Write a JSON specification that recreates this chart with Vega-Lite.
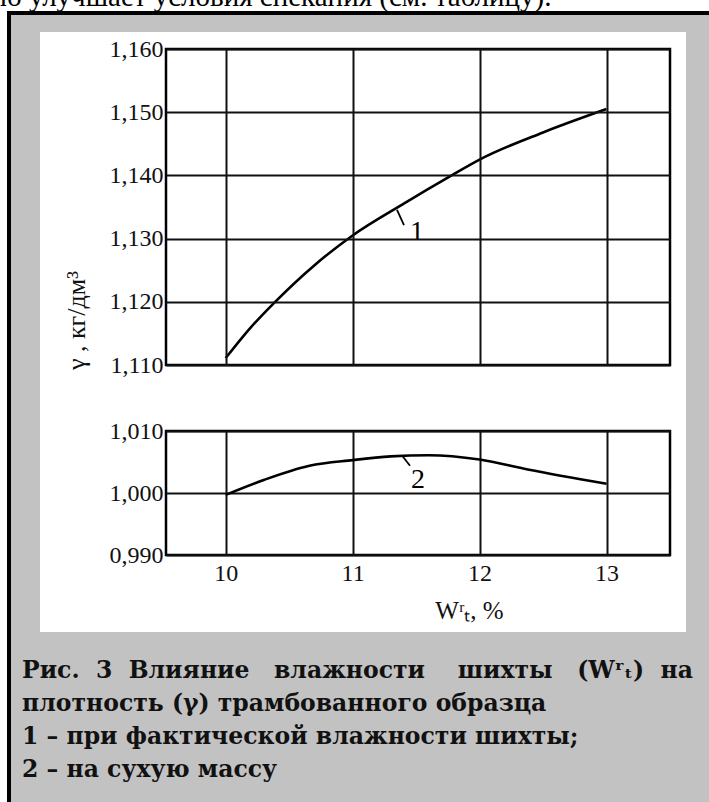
{
  "$schema": "https://vega.github.io/schema/vega-lite/v6.json",
  "autosize": {"type": "none"},
  "padding": {"left": 166, "top": 49, "right": 543, "bottom": 753},
  "background": "white",
  "bounds": "flush",
  "spacing": 66,
  "config": {
    "view": {"stroke": "black", "strokeWidth": 2.5},
    "font": "Liberation Serif",
    "axis": {"labelFont": "Liberation Serif", "labelColor": "#111", "titleFont": "Liberation Serif", "titleColor": "#111", "titleFontWeight": "normal", "gridColor": "#111", "gridOpacity": 1, "gridWidth": 2, "ticks": false, "domain": false, "labelOverlap": false, "labelFlush": false}
  },
  "datasets": {
    "curves": [
      {"W": 10.0, "gamma": 1.1111, "curve": 1},
      {"W": 10.2, "gamma": 1.1160, "curve": 1},
      {"W": 10.39, "gamma": 1.1200, "curve": 1},
      {"W": 10.7, "gamma": 1.1258, "curve": 1},
      {"W": 11.0, "gamma": 1.1305, "curve": 1},
      {"W": 11.4, "gamma": 1.1355, "curve": 1},
      {"W": 11.78, "gamma": 1.1400, "curve": 1},
      {"W": 12.0, "gamma": 1.1425, "curve": 1},
      {"W": 12.5, "gamma": 1.1468, "curve": 1},
      {"W": 13.0, "gamma": 1.1505, "curve": 1},
      {"W": 10.0, "gamma": 0.9997, "curve": 2},
      {"W": 10.3, "gamma": 1.0021, "curve": 2},
      {"W": 10.66, "gamma": 1.0044, "curve": 2},
      {"W": 11.0, "gamma": 1.0053, "curve": 2},
      {"W": 11.3, "gamma": 1.0059, "curve": 2},
      {"W": 11.6, "gamma": 1.0061, "curve": 2},
      {"W": 12.0, "gamma": 1.0054, "curve": 2},
      {"W": 12.38, "gamma": 1.0038, "curve": 2},
      {"W": 13.0, "gamma": 1.0015, "curve": 2}
    ]
  },
  "vconcat": [
    {
      "width": 504,
      "height": 316,
      "layer": [
        {
          "data": {"values": [{}]},
          "mark": {"type": "rect", "fill": "#c2c2c2", "stroke": "black", "strokeWidth": 4},
          "encoding": {
            "x": {"datum": 8.2933, "type": "quantitative", "scale": {"domain": [9.53, 13.5], "nice": false, "zero": false}},
            "x2": {"datum": 13.894},
            "y": {"datum": 1.1657, "type": "quantitative", "scale": {"domain": [1.11, 1.16], "nice": false, "zero": false}},
            "y2": {"datum": 1.03959}
          }
        },
        {
          "data": {"values": [{}]},
          "mark": {"type": "rect", "fill": "white"},
          "encoding": {
            "x": {"datum": 8.5375, "type": "quantitative", "scale": {"domain": [9.53, 13.5], "nice": false, "zero": false}},
            "x2": {"datum": 13.626},
            "y": {"datum": 1.16269, "type": "quantitative", "scale": {"domain": [1.11, 1.16], "nice": false, "zero": false}},
            "y2": {"datum": 1.06775}
          }
        },
        {
          "data": {"values": [{}]},
          "mark": {"type": "text", "font": "Liberation Serif", "fontSize": 29, "align": "left", "baseline": "alphabetic", "color": "black"},
          "encoding": {
            "x": {"datum": 8.2224, "type": "quantitative", "scale": {"domain": [9.53, 13.5], "nice": false, "zero": false}},
            "y": {"datum": 1.16681, "type": "quantitative", "scale": {"domain": [1.11, 1.16], "nice": false, "zero": false}},
            "text": {"value": "ю улучшает условия спекания (см. таблицу)."}
          }
        },
        {
          "data": {"values": [{}]},
          "mark": {"type": "rect", "fill": null, "stroke": "black", "strokeWidth": 2.5},
          "encoding": {
            "x": {"datum": 9.53, "type": "quantitative", "scale": {"domain": [9.53, 13.5], "nice": false, "zero": false}},
            "x2": {"datum": 13.5},
            "y": {"datum": 1.11, "type": "quantitative", "scale": {"domain": [1.11, 1.16], "nice": false, "zero": false}},
            "y2": {"datum": 1.16}
          }
        },
        {
          "data": {"name": "curves"},
          "transform": [{"filter": "datum.curve == 1"}],
          "mark": {"type": "line", "color": "black", "strokeWidth": 2.6, "interpolate": "monotone"},
          "encoding": {
            "x": {"field": "W", "type": "quantitative", "scale": {"domain": [9.53, 13.5], "nice": false, "zero": false},
              "axis": {"values": [10, 11, 12, 13], "labels": false, "title": null, "grid": true, "zindex": 1}},
            "y": {"field": "gamma", "type": "quantitative", "scale": {"domain": [1.11, 1.16], "nice": false, "zero": false},
              "axis": {"values": [1.11, 1.12, 1.13, 1.14, 1.15, 1.16], "labelExpr": "replace(format(datum.value, '.3f'), '.', ',')", "labelFontSize": 24, "labelPadding": 3, "grid": true, "zindex": 1,
                "title": "γ , кг/дм³", "titleFontSize": 26, "titleAngle": -90, "titleX": -82, "titleY": 271, "titleAlign": "center", "titleBaseline": "alphabetic"}}
          }
        },
        {
          "data": {"values": [{}]},
          "mark": {"type": "rule", "color": "black", "strokeWidth": 1.8},
          "encoding": {
            "x": {"datum": 11.3496, "type": "quantitative", "scale": {"domain": [9.53, 13.5], "nice": false, "zero": false}},
            "x2": {"datum": 11.4047},
            "y": {"datum": 1.13453, "type": "quantitative", "scale": {"domain": [1.11, 1.16], "nice": false, "zero": false}},
            "y2": {"datum": 1.13215}
          }
        },
        {
          "data": {"values": [{}]},
          "mark": {"type": "text", "font": "Liberation Serif", "fontSize": 28, "align": "center", "baseline": "alphabetic", "color": "black"},
          "encoding": {
            "x": {"datum": 11.507, "type": "quantitative", "scale": {"domain": [9.53, 13.5], "nice": false, "zero": false}},
            "y": {"datum": 1.12978, "type": "quantitative", "scale": {"domain": [1.11, 1.16], "nice": false, "zero": false}},
            "text": {"value": "1"}
          }
        }
      ]
    },
    {
      "width": 504,
      "height": 124,
      "layer": [
        {
          "data": {"name": "curves"},
          "transform": [{"filter": "datum.curve == 2"}],
          "mark": {"type": "line", "color": "black", "strokeWidth": 2.6, "interpolate": "monotone"},
          "encoding": {
            "x": {"field": "W", "type": "quantitative", "scale": {"domain": [9.53, 13.5], "nice": false, "zero": false},
              "axis": {"values": [10, 11, 12, 13], "format": "d", "labelFontSize": 24, "labelPadding": 6, "grid": true,
                "title": "Wʳₜ, %", "titleFontSize": 25, "titleX": 303, "titleY": 63, "titleAlign": "center", "titleBaseline": "alphabetic"}},
            "y": {"field": "gamma", "type": "quantitative", "scale": {"domain": [0.99, 1.01], "nice": false, "zero": false},
              "axis": {"values": [0.99, 1.0, 1.01], "labelExpr": "replace(format(datum.value, '.3f'), '.', ',')", "labelFontSize": 24, "labelPadding": 3, "grid": true, "title": null}}
          }
        },
        {
          "data": {"values": [{}]},
          "mark": {"type": "rule", "color": "black", "strokeWidth": 1.8},
          "encoding": {
            "x": {"datum": 11.389, "type": "quantitative", "scale": {"domain": [9.53, 13.5], "nice": false, "zero": false}},
            "x2": {"datum": 11.452},
            "y": {"datum": 1.00606, "type": "quantitative", "scale": {"domain": [0.99, 1.01], "nice": false, "zero": false}},
            "y2": {"datum": 1.0044}
          }
        },
        {
          "data": {"values": [{}]},
          "mark": {"type": "text", "font": "Liberation Serif", "fontSize": 28, "align": "center", "baseline": "alphabetic", "color": "black"},
          "encoding": {
            "x": {"datum": 11.515, "type": "quantitative", "scale": {"domain": [9.53, 13.5], "nice": false, "zero": false}},
            "y": {"datum": 1.00086, "type": "quantitative", "scale": {"domain": [0.99, 1.01], "nice": false, "zero": false}},
            "text": {"value": "2"}
          }
        },
        {
          "data": {"values": [{}]},
          "mark": {"type": "text", "font": "DejaVu Serif", "fontWeight": "bold", "fontSize": 23.5, "align": "left", "baseline": "alphabetic", "color": "#111", "lineHeight": 33},
          "encoding": {
            "x": {"datum": 8.3957, "type": "quantitative", "scale": {"domain": [9.53, 13.5], "nice": false, "zero": false}},
            "y": {"datum": 0.970161, "type": "quantitative", "scale": {"domain": [0.99, 1.01], "nice": false, "zero": false}},
            "text": {"value": ["Рис.\u00a0\u00a03\u00a0\u00a0Влияние\u00a0\u00a0\u00a0влажности\u00a0\u00a0\u00a0\u00a0шихты\u00a0\u00a0\u00a0(Wʳₜ)\u00a0\u00a0на", "плотность (γ) трамбованного образца", "1 – при фактической влажности шихты;", "2 – на сухую массу"]}
          }
        }
      ]
    }
  ]
}
